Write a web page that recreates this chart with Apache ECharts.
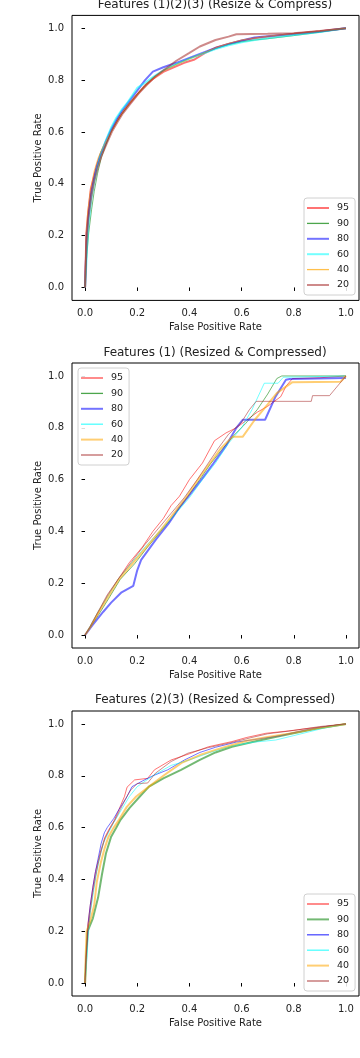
<!DOCTYPE html>
<html><head><meta charset="utf-8">
<script src="https://cdn.jsdelivr.net/npm/echarts@6/dist/echarts.min.js"></script>
<style>html,body{margin:0;padding:0;background:#fff}#c{width:360px;height:1058px}</style>
</head><body><div id="c"></div>
<script>
// ---- data ----
const levels = ["95", "90", "80", "60", "40", "20"];
const titles = ["Features (1)(2)(3) (Resize & Compress)", "Features (1) (Resized & Compressed)", "Features (2)(3) (Resized & Compressed)"];
const tickValues = [0, 0.2, 0.4, 0.6, 0.8, 1.0];

// Plot 1: Features (1)(2)(3)
const p1_95 = [[0,0],[0.003,0.12],[0.005,0.21],[0.012,0.29],[0.022,0.38],[0.032,0.42],[0.045,0.47],[0.06,0.515],[0.08,0.56],[0.10,0.605],[0.12,0.64],[0.14,0.672],[0.17,0.71],[0.20,0.745],[0.23,0.78],[0.26,0.805],[0.30,0.832],[0.34,0.85],[0.38,0.867],[0.42,0.88],[0.46,0.905],[0.50,0.925],[0.55,0.94],[0.60,0.952],[0.65,0.962],[0.70,0.968],[0.80,0.979],[0.90,0.989],[1,1]];
const p1_90 = [[0,0],[0.004,0.08],[0.008,0.14],[0.014,0.21],[0.025,0.3],[0.035,0.37],[0.048,0.44],[0.062,0.5],[0.08,0.55],[0.10,0.6],[0.12,0.637],[0.14,0.668],[0.17,0.71],[0.20,0.747],[0.23,0.78],[0.26,0.81],[0.30,0.838],[0.35,0.862],[0.40,0.884],[0.45,0.903],[0.50,0.922],[0.55,0.937],[0.60,0.948],[0.65,0.955],[0.70,0.96],[0.80,0.972],[0.90,0.985],[1,1]];
const p1_80 = [[0,0],[0.003,0.1],[0.006,0.2],[0.013,0.28],[0.022,0.36],[0.032,0.41],[0.045,0.465],[0.06,0.515],[0.08,0.565],[0.10,0.61],[0.12,0.647],[0.14,0.68],[0.17,0.72],[0.20,0.76],[0.23,0.8],[0.26,0.833],[0.30,0.85],[0.35,0.867],[0.40,0.886],[0.45,0.905],[0.50,0.924],[0.55,0.94],[0.60,0.953],[0.65,0.965],[0.70,0.97],[0.80,0.978],[0.90,0.988],[1,1]];
const p1_60 = [[0,0],[0.004,0.07],[0.008,0.16],[0.014,0.25],[0.024,0.34],[0.034,0.4],[0.046,0.46],[0.06,0.515],[0.08,0.568],[0.10,0.617],[0.12,0.655],[0.14,0.685],[0.16,0.71],[0.20,0.77],[0.23,0.79],[0.26,0.812],[0.30,0.838],[0.35,0.862],[0.40,0.882],[0.45,0.902],[0.50,0.92],[0.55,0.935],[0.60,0.946],[0.65,0.955],[0.70,0.962],[0.80,0.974],[0.90,0.986],[1,1]];
const p1_40 = [[0,0],[0.002,0.12],[0.004,0.2],[0.01,0.29],[0.02,0.37],[0.035,0.45],[0.05,0.5],[0.065,0.535],[0.077,0.557],[0.10,0.6],[0.12,0.637],[0.14,0.67],[0.17,0.71],[0.20,0.745],[0.23,0.775],[0.26,0.805],[0.30,0.835],[0.35,0.86],[0.40,0.882],[0.45,0.903],[0.50,0.925],[0.55,0.942],[0.60,0.955],[0.65,0.963],[0.70,0.97],[0.80,0.98],[0.90,0.99],[1,1]];
const p1_20 = [[0,0],[0.003,0.09],[0.006,0.18],[0.013,0.27],[0.024,0.35],[0.035,0.41],[0.048,0.46],[0.064,0.51],[0.085,0.56],[0.105,0.605],[0.125,0.64],[0.145,0.672],[0.175,0.71],[0.205,0.748],[0.235,0.78],[0.27,0.815],[0.31,0.845],[0.35,0.875],[0.40,0.905],[0.44,0.93],[0.50,0.955],[0.55,0.968],[0.58,0.977],[0.70,0.979],[0.80,0.981],[0.90,0.99],[1,1]];

// Plot 2: Features (1)
const p2_95 = [[0,0],[0.02,0.03],[0.05,0.085],[0.085,0.15],[0.13,0.22],[0.17,0.28],[0.22,0.34],[0.26,0.4],[0.30,0.45],[0.33,0.5],[0.362,0.536],[0.40,0.6],[0.45,0.664],[0.496,0.75],[0.54,0.78],[0.58,0.8],[0.62,0.83],[0.66,0.86],[0.70,0.883],[0.75,0.92],[0.77,0.96],[0.795,0.99],[0.9,0.993],[1,1]];
const p2_90 = [[0,0],[0.02,0.03],[0.05,0.075],[0.09,0.14],[0.135,0.215],[0.19,0.275],[0.24,0.34],[0.29,0.4],[0.34,0.46],[0.39,0.53],[0.44,0.6],[0.48,0.66],[0.52,0.71],[0.57,0.77],[0.616,0.817],[0.66,0.87],[0.70,0.93],[0.735,0.99],[0.754,1.0],[1,1]];
const p2_80 = [[0,0],[0.03,0.04],[0.07,0.09],[0.10,0.125],[0.14,0.165],[0.185,0.19],[0.20,0.25],[0.215,0.29],[0.272,0.369],[0.32,0.43],[0.36,0.49],[0.40,0.54],[0.45,0.605],[0.49,0.66],[0.54,0.73],[0.58,0.8],[0.605,0.831],[0.69,0.831],[0.73,0.92],[0.77,0.985],[0.784,0.988],[1,0.992]];
const p2_60 = [[0,0],[0.02,0.035],[0.05,0.09],[0.09,0.155],[0.13,0.22],[0.18,0.28],[0.23,0.34],[0.29,0.405],[0.34,0.46],[0.40,0.53],[0.45,0.6],[0.50,0.664],[0.55,0.74],[0.6,0.8],[0.64,0.87],[0.687,0.972],[0.74,0.972],[0.76,0.995],[1,1]];
const p2_40 = [[0,0],[0.02,0.03],[0.05,0.085],[0.09,0.15],[0.13,0.215],[0.185,0.28],[0.24,0.345],[0.29,0.405],[0.34,0.47],[0.39,0.535],[0.44,0.61],[0.48,0.665],[0.52,0.72],[0.565,0.765],[0.604,0.765],[0.65,0.83],[0.70,0.89],[0.735,0.934],[0.795,0.976],[0.98,0.978],[1,1]];
const p2_20 = [[0,0],[0.02,0.035],[0.05,0.09],[0.085,0.155],[0.13,0.22],[0.18,0.285],[0.23,0.35],[0.28,0.41],[0.33,0.47],[0.38,0.53],[0.43,0.6],[0.47,0.66],[0.51,0.72],[0.55,0.775],[0.598,0.819],[0.63,0.87],[0.656,0.902],[0.867,0.902],[0.872,0.924],[0.937,0.924],[1,1]];

// Plot 3: Features (2)(3)
const p3_95 = [[0,0],[0.004,0.1],[0.01,0.22],[0.02,0.3],[0.03,0.37],[0.04,0.43],[0.05,0.47],[0.06,0.51],[0.075,0.56],[0.09,0.59],[0.113,0.63],[0.13,0.67],[0.151,0.72],[0.161,0.756],[0.19,0.784],[0.24,0.79],[0.266,0.823],[0.33,0.861],[0.40,0.885],[0.473,0.912],[0.563,0.932],[0.62,0.948],[0.693,0.964],[0.78,0.973],[0.85,0.982],[0.92,0.99],[1,1]];
const p3_90 = [[0,0],[0.004,0.09],[0.01,0.2],[0.03,0.25],[0.05,0.33],[0.065,0.42],[0.08,0.5],[0.10,0.565],[0.12,0.6],[0.136,0.63],[0.17,0.675],[0.21,0.72],[0.245,0.758],[0.30,0.79],[0.368,0.823],[0.44,0.861],[0.50,0.89],[0.563,0.912],[0.65,0.932],[0.72,0.948],[0.78,0.96],[0.88,0.98],[1,1]];
const p3_80 = [[0,0],[0.004,0.1],[0.012,0.23],[0.02,0.3],[0.03,0.37],[0.04,0.43],[0.05,0.48],[0.062,0.54],[0.074,0.58],[0.085,0.6],[0.11,0.635],[0.13,0.67],[0.157,0.713],[0.18,0.758],[0.22,0.78],[0.26,0.8],[0.317,0.823],[0.381,0.861],[0.44,0.89],[0.50,0.91],[0.58,0.93],[0.65,0.94],[0.75,0.955],[0.85,0.978],[0.92,0.99],[1,1]];
const p3_60 = [[0,0],[0.005,0.06],[0.012,0.18],[0.02,0.27],[0.032,0.35],[0.045,0.43],[0.055,0.48],[0.07,0.54],[0.09,0.58],[0.11,0.62],[0.14,0.67],[0.17,0.72],[0.20,0.758],[0.26,0.8],[0.33,0.84],[0.40,0.861],[0.48,0.89],[0.56,0.915],[0.65,0.93],[0.731,0.938],[0.80,0.955],[0.86,0.97],[0.92,0.985],[1,1]];
const p3_40 = [[0,0],[0.003,0.12],[0.006,0.2],[0.02,0.24],[0.035,0.3],[0.045,0.39],[0.06,0.463],[0.075,0.52],[0.09,0.565],[0.11,0.6],[0.13,0.63],[0.16,0.68],[0.196,0.72],[0.245,0.758],[0.30,0.8],[0.37,0.85],[0.44,0.88],[0.50,0.9],[0.56,0.918],[0.62,0.935],[0.70,0.95],[0.78,0.962],[0.88,0.982],[1,1]];
const p3_20 = [[0,0],[0.004,0.09],[0.012,0.21],[0.02,0.28],[0.03,0.35],[0.04,0.41],[0.05,0.46],[0.062,0.51],[0.077,0.56],[0.095,0.595],[0.115,0.63],[0.135,0.67],[0.155,0.71],[0.175,0.745],[0.20,0.77],[0.24,0.772],[0.27,0.81],[0.33,0.855],[0.394,0.887],[0.47,0.908],[0.56,0.928],[0.64,0.948],[0.70,0.962],[0.80,0.975],[0.90,0.99],[1,1]];

const plotData = [
  [p1_95, p1_90, p1_80, p1_60, p1_40, p1_20],
  [p2_95, p2_90, p2_80, p2_60, p2_40, p2_20],
  [p3_95, p3_90, p3_80, p3_60, p3_40, p3_20]
];

// ---- style ----
const colors = ["#ff0000", "#008000", "#0000ff", "#00ffff", "#ffa500", "#a52a2a"];
const widths = [
  [2, 1, 2, 2, 1, 2],
  [1, 1, 2, 1, 2, 1],
  [1, 2, 1, 1, 2, 1]
];
const gridTops = [15.4, 363, 711];
const gridH = 285;
const titleTops = [-1.2, 346.5, 694];
const legendPos = [
  {left: 304, top: 198},
  {left: 78, top: 368},
  {left: 304, top: 894}
];
const font = "DejaVu Sans";
const iconThick = "path://M0,0h22v2h-22z";
const iconThin = "path://M0,0h22v1.3h-22z";

const grids = [], xAxes = [], yAxes = [], series = [], legends = [], titleArr = [];
for (let g = 0; g < 3; g++) {
  grids.push({left: 72, top: gridTops[g], width: 287, height: gridH, show: true,
    borderColor: "#000", borderWidth: 1, backgroundColor: "transparent", containLabel: false});
  const common = {
    type: "value", gridIndex: g, min: -0.05, max: 1.05,
    axisLine: {show: false},
    splitLine: {show: false},
    axisTick: {show: true, customValues: tickValues, length: 3.5, lineStyle: {color: "#000", width: 1}},
    axisLabel: {show: true, customValues: tickValues, formatter: v => v.toFixed(1),
      fontFamily: font, fontSize: 10, color: "#222", margin: 8},
    nameLocation: "middle",
    nameMoveOverlap: false,
    nameTextStyle: {fontFamily: font, fontSize: 10, color: "#222"}
  };
  xAxes.push(Object.assign({}, common, {name: "False Positive Rate", nameGap: 22}));
  yAxes.push(Object.assign({}, common, {name: "True Positive Rate", nameGap: 29}));
  titleArr.push({text: titles[g], left: 215, top: titleTops[g], textAlign: "center", padding: 0,
    textStyle: {fontFamily: font, fontSize: 12, fontWeight: "normal", color: "#222"}});
  const legendItems = [];
  for (let s = 0; s < levels.length; s++) {
    const nm = "p" + (g + 1) + "-" + levels[s];
    const thick = widths[g][s] > 1;
    legendItems.push({name: nm, icon: thick ? iconThick : iconThin,
      itemStyle: {color: colors[s], opacity: thick ? 0.55 : 0.7, borderWidth: 0}});
    series.push({
      name: nm, type: "line", xAxisIndex: g, yAxisIndex: g,
      data: plotData[g][s], symbol: "none", showSymbol: false, smooth: false,
      lineStyle: {color: colors[s], width: widths[g][s], opacity: 0.55},
      itemStyle: {color: colors[s], opacity: 0.55},
      z: 2 + s, animation: false
    });
  }
  legends.push({
    data: legendItems, orient: "vertical", left: legendPos[g].left, top: legendPos[g].top,
    formatter: n => n.split("-")[1],
    itemWidth: 22, itemHeight: 10, itemGap: 5.4, symbolKeepAspect: true,
    padding: [5, 6, 5, 3],
    borderColor: "#d0d0d0", borderWidth: 1, borderRadius: 3,
    backgroundColor: "rgba(255,255,255,0.85)",
    textStyle: {fontFamily: font, fontSize: 9.5, lineHeight: 10, color: "#222", padding: [0, 0, 0, 3]},
    selectedMode: false
  });
}

const chart = echarts.init(document.getElementById("c"), null, {renderer: "canvas"});
chart.setOption({
  animation: false,
  backgroundColor: "#fff",
  title: titleArr,
  grid: grids, xAxis: xAxes, yAxis: yAxes,
  legend: legends,
  series: series
});
</script>
</body></html>
